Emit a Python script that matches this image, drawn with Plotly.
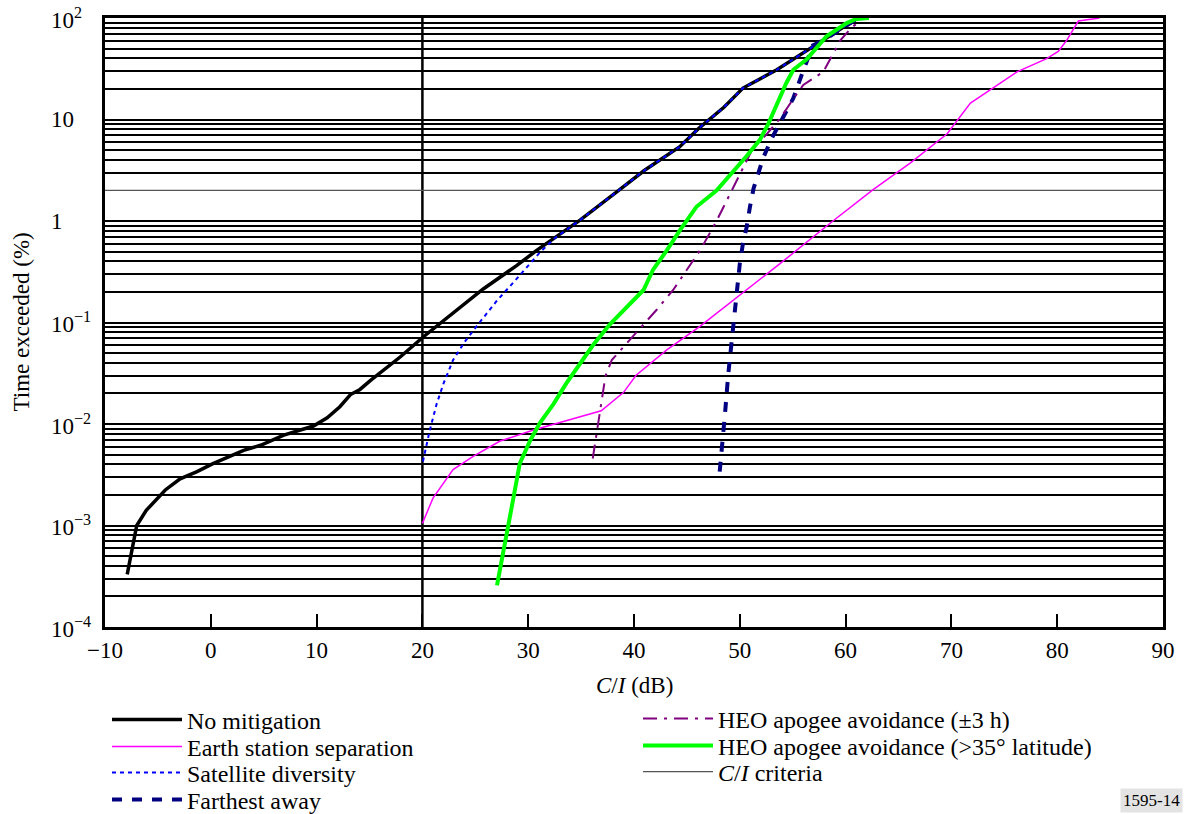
import math
import plotly.graph_objects as go

# C/I (dB) versus percentage of time exceeded for each mitigation technique
no_mit_x = [-7.9, -7.0, -6.1, -4.3, -2.9, -1.3, 0.2, 1.5, 3.1, 4.7, 6.9, 9.7, 11.0, 12.2, 13.2,
            14.1, 15.1, 17.9, 20.1, 25.75, 28.9, 30.8, 34.9, 38.4, 41.0, 44.3, 46.2, 48.5, 50.3,
            53.5, 56.3, 57.9, 60.1, 61.2]
no_mit_y = [3.3e-4, 1.0e-3, 1.41e-3, 2.24e-3, 2.88e-3, 3.39e-3, 4.07e-3, 4.68e-3, 5.5e-3, 6.17e-3,
            7.76e-3, 9.55e-3, 0.0115, 0.0148, 0.0195, 0.0219, 0.0269, 0.0457, 0.0724, 0.214, 0.363,
            0.513, 1.02, 1.95, 3.16, 5.37, 8.32, 13.2, 20.4, 30.9, 47.9, 60.3, 85.1, 100]

es_sep_x = [20.0, 21.0, 22.9, 24.8, 27.3, 30.5, 36.9, 39.0, 40.2, 43.1, 46.2, 49.4, 51.0, 53.8,
            58.8, 62.6, 66.1, 69.6, 71.8, 73.6, 76.2, 79.0, 80.1, 80.9, 82.0, 84.0]
es_sep_y = [1.05e-3, 1.86e-3, 3.55e-3, 4.79e-3, 6.76e-3, 8.71e-3, 0.0135, 0.0204, 0.0302, 0.0537,
            0.0912, 0.166, 0.224, 0.380, 1.0, 2.04, 3.72, 7.24, 14.5, 19.5, 29.5, 39.8, 46.8, 60.3,
            93.3, 100]

sat_div_x = [20.05, 20.7, 21.35, 22.0, 22.9, 24.0, 25.4, 27.0, 28.9, 31.1, 32.5, 34.9, 38.4, 41.0,
             44.3, 46.2, 48.5, 50.3, 53.5, 56.3, 57.9, 60.1, 61.2]
sat_div_y = [4.27e-3, 8.7e-3, 0.0158, 0.0251, 0.0427, 0.0646, 0.100, 0.162, 0.269, 0.490, 0.676,
             1.02, 1.95, 3.16, 5.37, 8.32, 13.2, 20.4, 30.9, 47.9, 60.3, 85.1, 100]

farthest_x = [48.1, 48.3, 48.6, 48.9, 49.2, 49.4, 49.7, 50.0, 50.3, 50.65, 50.96, 51.3, 51.75, 52.2,
              53.0, 54.0, 55.06, 55.85, 56.3, 56.9, 57.9, 60.1, 61.2]
farthest_y = [3.39e-3, 5.5e-3, 0.0126, 0.0302, 0.0617, 0.102, 0.209, 0.380, 0.603, 0.871, 1.38,
              2.09, 2.95, 4.17, 6.46, 10.0, 16.2, 27.5, 36.3, 53.7, 60.3, 85.1, 100]

heo3h_x = [36.1, 36.5, 36.95, 37.3, 37.9, 39.3, 40.9, 42.1, 43.7, 45.0, 46.3, 47.8, 48.8, 49.9,
           51.3, 52.5, 53.8, 55.1, 56.0, 57.9, 59.5, 60.6, 61.4, 61.6]
heo3h_y = [4.57e-3, 8.71e-3, 0.0170, 0.0295, 0.0427, 0.0617, 0.0955, 0.132, 0.209, 0.331, 0.525,
           1.0, 1.62, 2.75, 5.37, 7.08, 10.2, 16.2, 21.9, 29.5, 60.3, 81.3, 93.3, 100]

heo35_x = [27.05, 27.8, 28.6, 29.2, 30.2, 31.1, 32.4, 33.6, 34.9, 36.15, 37.7, 39.9, 40.9, 41.8,
           43.1, 44.35, 45.9, 47.8, 49.1, 50.65, 51.9, 52.7, 54.4, 55.06, 56.3, 58.2, 60.1, 61.0, 62.2]
heo35_y = [2.57e-4, 7.08e-4, 1.86e-3, 4.07e-3, 6.92e-3, 0.0102, 0.0158, 0.0251, 0.0398, 0.0603,
           0.0955, 0.166, 0.209, 0.331, 0.513, 0.813, 1.38, 2.0, 2.82, 4.37, 6.31, 9.12, 22.9, 30.9,
           38.9, 66.1, 89.1, 97.7, 100]

# C/I criteria: 20 dB threshold and 2% time threshold
ci_criteria_db = 20
ci_criteria_pct = 2

x_range = [-10, 90]
y_range_pct = [1e-4, 100]
x_ticks = list(range(-10, 91, 10))
x_tick_text = [("\u2212" + str(-v)) if v < 0 else str(v) for v in x_ticks]
y_decades = [1e-4, 1e-3, 1e-2, 1e-1, 1, 10, 100]
y_decade_text = ["10<sup>\u22124</sup>", "10<sup>\u22123</sup>", "10<sup>\u22122</sup>",
                 "10<sup>\u22121</sup>", "1", "10", "10<sup>2</sup>"]

FONT = "Liberation Serif"
AXIS_FS = 23
LEG_FS = 24
W, H = 1185, 814
ML, MR, MT, MB = 105, 22, 18, 187
PW, PH = W - ML - MR, H - MT - MB


def px_x(px):
    return (px - ML) / PW


def px_y(py):
    return (H - MB - py) / PH


fig = go.Figure()

# criteria lines go underneath the curves
fig.add_trace(go.Scatter(x=[ci_criteria_db, ci_criteria_db], y=y_range_pct, mode="lines",
                         line=dict(color="black", width=2.5), showlegend=False,
                         hoverinfo="skip"))
fig.add_trace(go.Scatter(x=x_range, y=[ci_criteria_pct, ci_criteria_pct], mode="lines",
                         line=dict(color="#555555", width=1.2),
                         name="<i>C</i>/<i>I</i> criteria", legend="legend7"))

fig.add_trace(go.Scatter(x=no_mit_x, y=no_mit_y, mode="lines", name="No mitigation",
                         line=dict(color="black", width=3.5), legend="legend"))
fig.add_trace(go.Scatter(x=es_sep_x, y=es_sep_y, mode="lines", name="Earth station separation",
                         line=dict(color="#ff00ff", width=1.5), legend="legend2"))
fig.add_trace(go.Scatter(x=sat_div_x, y=sat_div_y, mode="lines", name="Satellite diversity",
                         line=dict(color="#0000ff", width=2, dash="4px,4px"), legend="legend3"))
fig.add_trace(go.Scatter(x=farthest_x, y=farthest_y, mode="lines", name="Farthest away",
                         line=dict(color="#000080", width=4, dash="10px,10px"),
                         legend="legend4"))
fig.add_trace(go.Scatter(x=heo3h_x, y=heo3h_y, mode="lines",
                         name="HEO apogee avoidance (\u00b13 h)",
                         line=dict(color="#800080", width=2, dash="14px,7px,3px,7px"),
                         legend="legend5"))
fig.add_trace(go.Scatter(x=heo35_x, y=heo35_y, mode="lines",
                         name="HEO apogee avoidance (>35\u00b0 latitude)",
                         line=dict(color="#00ff00", width=4), legend="legend6"))

minor_vals = [m * 10 ** e for e in range(-4, 2) for m in range(2, 10)
              if not (e == 0 and m == ci_criteria_pct)]

fig.update_xaxes(range=x_range, tickmode="array", tickvals=x_ticks, ticktext=x_tick_text,
                 ticks="inside", ticklen=13, tickwidth=2, tickcolor="black",
                 showgrid=False, zeroline=False, showline=True, linewidth=3,
                 linecolor="black", mirror=True, automargin=False,
                 tickfont=dict(family=FONT, size=AXIS_FS))
fig.update_yaxes(type="log", range=[-4, 2], tickmode="array", tickvals=y_decades,
                 showticklabels=False, ticks="", showgrid=True, gridcolor="black", gridwidth=2,
                 minor=dict(tickmode="array", tickvals=minor_vals, showgrid=True,
                            gridcolor="black", gridwidth=2, ticks=""),
                 zeroline=False, showline=True, linewidth=3, linecolor="black", mirror=True,
                 automargin=False)

annotations = []
for v, t in zip(y_decades, y_decade_text):
    annotations.append(dict(x=px_x(49), xref="paper", y=math.log10(v), yref="y",
                            text=t, showarrow=False, xanchor="left", yanchor="middle",
                            font=dict(family=FONT, size=AXIS_FS, color="black")))
annotations.append(dict(x=px_x(21), xref="paper", y=0.5, yref="paper",
                        text="Time exceeded (%)", textangle=-90, showarrow=False,
                        xanchor="center", yanchor="middle",
                        font=dict(family=FONT, size=AXIS_FS, color="black")))
annotations.append(dict(x=0.5, xref="paper", y=px_y(685), yref="paper",
                        text="<i>C</i>/<i>I</i> (dB)", showarrow=False,
                        xanchor="center", yanchor="middle",
                        font=dict(family=FONT, size=AXIS_FS, color="black")))
annotations.append(dict(x=px_x(1151), xref="paper", y=px_y(800), yref="paper",
                        text="1595-14", showarrow=False, bgcolor="#e3e3e3",
                        xanchor="center", yanchor="middle", borderpad=2,
                        font=dict(family=FONT, size=17, color="black")))


def legend_at(left_px, row_px):
    return dict(x=px_x(left_px), y=px_y(row_px), xref="paper", yref="paper",
                xanchor="left", yanchor="middle", bgcolor="rgba(0,0,0,0)",
                font=dict(family=FONT, size=LEG_FS, color="black"), itemwidth=70)


fig.update_layout(
    width=W, height=H,
    margin=dict(l=ML, r=MR, t=MT, b=MB, autoexpand=False),
    plot_bgcolor="white", paper_bgcolor="white",
    font=dict(family=FONT, size=AXIS_FS, color="black"),
    annotations=annotations,
    legend=legend_at(107, 720),
    legend2=legend_at(107, 747),
    legend3=legend_at(107, 773),
    legend4=legend_at(107, 800),
    legend5=legend_at(638, 719),
    legend6=legend_at(638, 746),
    legend7=legend_at(638, 772),
)

fig.write_html("out.html")
